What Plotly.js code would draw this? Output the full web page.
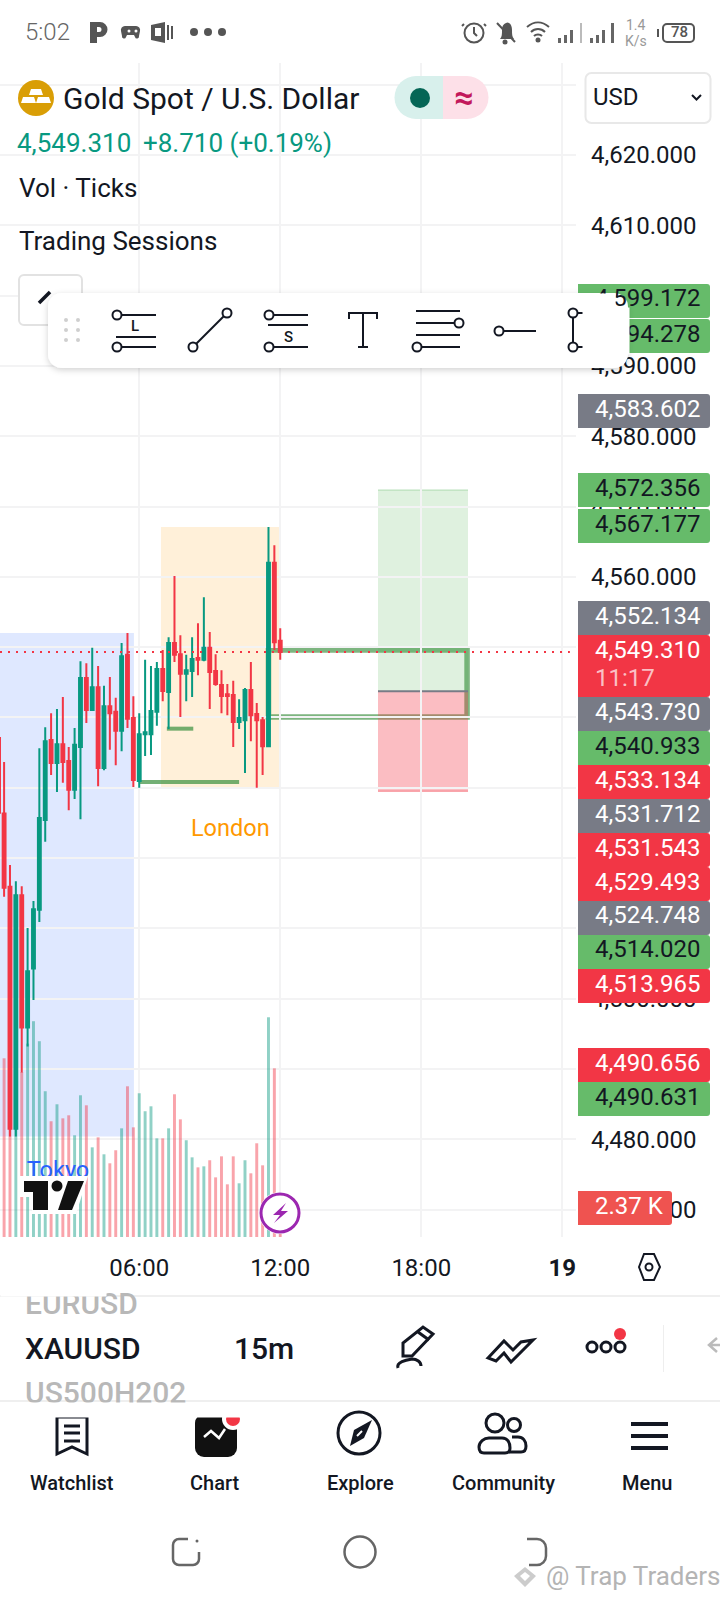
<!DOCTYPE html>
<html><head><meta charset="utf-8">
<script src="https://cdn.plot.ly/plotly-3.0.1.min.js"></script>
<style>html,body{margin:0;padding:0;background:#fff}#c{width:720px;height:1600px}</style>
</head><body><div id="c"></div>
<script>
// ---- Data (15m bars, 00:15 -> 12:00) ----
const barIndex = [0,1,2,3,4,5,6,7,8,9,10,11,12,13,14,15,16,17,18,19,20,21,22,23,24,25,26,27,28,29,30,31,32,33,34,35,36,37,38,39,40,41,42,43,44,45,46,47];
const openPrices  = [4526.35,4515.9,4481.5,4514.7,4495.9,4504.3,4512.65,4525.4,4536.8,4533.5,4536.2,4533.8,4529.7,4535.8,4545.6,4541.05,4544.3,4532.8,4541.6,4540.8,4538.1,4548.9,4539.9,4530.95,4537.6,4537.6,4540.8,4546.9,4543.6,4550.6,4549.0,4546.2,4546.6,4548.45,4548.2,4549.9,4546.6,4544.6,4543.3,4543.2,4539.35,4539.6,4543.9,4540.5,4539.6,4535.9,4562.0,4550.9];
const highPrices  = [4533.65,4519.0,4516.7,4516.0,4510.04,4513.9,4535.6,4538.6,4540.6,4541.2,4542.9,4535.8,4538.5,4548.0,4547.7,4549.9,4547.3,4544.5,4545.75,4542.8,4550.6,4552.0,4543.0,4540.6,4548.2,4547.3,4547.9,4549.6,4551.4,4560.1,4551.7,4548.9,4551.4,4553.4,4557.1,4552.15,4549.0,4546.7,4544.75,4545.2,4542.6,4544.2,4547.9,4542.05,4540.05,4567.1,4564.5,4552.7];
const lowPrices   = [4514.5,4480.4,4480.4,4489.5,4493.2,4499.8,4510.9,4522.3,4531.8,4529.4,4530.7,4526.8,4528.4,4525.5,4539.2,4540.9,4530.2,4532.5,4535.4,4533.2,4535.2,4538.5,4530.1,4530.0,4534.5,4534.65,4538.8,4542.3,4538.35,4547.9,4540.05,4542.3,4542.9,4546.0,4548.0,4541.2,4544.5,4540.6,4540.3,4535.8,4538.35,4532.1,4536.6,4530.0,4531.8,4535.8,4549.6,4548.2];
const closePrices = [4515.77,4481.5,4514.7,4495.9,4503.9,4512.7,4525.7,4536.6,4533.5,4536.2,4533.66,4529.7,4536.1,4545.6,4541.05,4544.3,4532.8,4541.6,4540.6,4538.1,4548.7,4539.8,4531.1,4537.6,4537.9,4540.9,4546.9,4543.75,4550.6,4548.9,4546.2,4546.7,4548.3,4548.2,4549.9,4546.45,4544.75,4543.05,4543.05,4539.35,4539.9,4543.9,4540.3,4539.6,4535.9,4562.0,4550.7,4549.31];
const volumeK = [14.11,16.0,13.0,13.03,15.27,17.04,15.46,11.51,9.14,10.48,9.37,9.61,8.03,11.19,10.40,7.08,7.87,6.53,5.82,6.85,8.58,11.90,8.66,11.35,9.93,10.32,7.79,7.79,8.58,11.27,9.29,7.64,6.29,5.50,5.58,6.06,4.71,6.37,4.16,6.37,4.24,6.06,5.03,7.40,5.66,17.35,13.32,2.37];
const clippedBarX = [-0.7,-0.7];
const clippedBarWick = [4537.2,4526.3];
const timeTickIndex = [23,47,71,95];
const timeTickLabels = ['06:00','12:00','18:00','<b>19</b>'];
const sessionNames = ['Tokyo','London'];
const sessionLabelX = [9.17,38.5];
const sessionLabelY = [4475.3,4524.0];
const lastPrice = 4549.31;

const UP='#089981', DOWN='#F23645', INK='#131722';
const GRID='#f3f3f4';
const xRange=[-0.698,97.34], priceRange=[4466.09,4633.09], volRange=[0,92.7];

const candles={type:'candlestick',x:barIndex,open:openPrices,high:highPrices,low:lowPrices,close:closePrices,
  xaxis:'x',yaxis:'y2',whiskerwidth:0,
  increasing:{line:{color:UP,width:2},fillcolor:UP},
  decreasing:{line:{color:DOWN,width:2},fillcolor:DOWN},hoverinfo:'skip'};
const volume={type:'bar',x:barIndex,y:volumeK,xaxis:'x',yaxis:'y',width:0.5,
  marker:{color:closePrices.map((c,i)=>c>=openPrices[i]?'rgba(8,153,129,0.45)':'rgba(242,54,69,0.45)'),line:{width:0}},hoverinfo:'skip'};
const clipped={type:'scatter',mode:'lines',x:clippedBarX,y:clippedBarWick,xaxis:'x',yaxis:'y2',line:{color:DOWN,width:2},hoverinfo:'skip'};
const sessionText={type:'scatter',mode:'text',x:sessionLabelX,y:sessionLabelY,text:sessionNames,xaxis:'x',yaxis:'y2',
  textposition:'middle center',cliponaxis:false,textfont:{family:'Roboto',size:23.5,color:['#2962ff','#ff9800']},hoverinfo:'skip'};

// drawings (data coordinates)
function box(x0,x1,y0,y1,fill,extra){return Object.assign({type:'rect',xref:'x',yref:'y2',x0,x1,y0,y1,fillcolor:fill,line:{width:0},layer:'below'},extra||{});}
function hline(x0,x1,y,col,w,extra){return Object.assign({type:'line',xref:'x',yref:'y2',x0,x1,y0:y,y1:y,line:{color:col,width:w},layer:'below'},extra||{});}
const shapes=[
  box(-0.698,22.1,4480.4,4552.0,'rgba(41,98,255,0.15)'),
  box(26.7,47.1,4530.0,4567.1,'rgba(255,152,0,0.15)'),
  hline(22.9,40,4530.8,'rgba(56,142,60,0.7)',4),
  hline(27.7,32.2,4538.4,'rgba(56,142,60,0.7)',4),
  box(45,78.8,4540.06,4549.59,'rgba(0,0,0,0)',{line:{color:'rgba(56,142,60,0.65)',width:5.5}}),
  box(63.64,78.96,4543.73,4572.356,'rgba(76,175,80,0.18)'),
  box(63.64,78.96,4529.493,4543.73,'rgba(242,54,69,0.33)'),
  hline(63.64,78.96,4543.73,'#787b86',2),
  hline(63.64,78.96,4529.493,'rgba(242,54,69,0.4)',1.5),
  hline(63.64,78.96,4572.356,'rgba(76,175,80,0.25)',1.5),
  hline(-0.698,96.3,lastPrice,DOWN,2,{layer:'above',line:{color:DOWN,width:2,dash:'2px,6px'}})
];

// ---- phone / app chrome, drawn as a single overlay ----
const tags=[
 ['g',284,'4,599.172'],['g',319,'4,594.278'],['y',394,'4,583.602'],['g',473,'4,572.356'],['g',509,'4,567.177'],
 ['y',601,'4,552.134'],['r',635,'4,549.310'],['y',697,'4,543.730'],['g',731,'4,540.933'],['r',765,'4,533.134'],
 ['y',799,'4,531.712'],['r',833,'4,531.543'],['r',867,'4,529.493'],['y',901,'4,524.748'],['g',935,'4,514.020'],
 ['r',969,'4,513.965'],['r',1048,'4,490.656'],['g',1082,'4,490.631']];
const tagFill={g:'#66bb6a',r:'#f23645',y:'#787b86'};
const tagText={g:'#131722',r:'#ffffff',y:'#ffffff'};
let s='';
function rr(x,y,w,h){return `M${x} ${y}h${w-3}a3 3 0 0 1 3 3v${h-6}a3 3 0 0 1 -3 3h-${w-3}z`;}
tags.forEach(t=>{const h=t[2]==='4,549.310'?62:34;s+=`<path d="${rr(578,t[1],132,h)}" fill="${tagFill[t[0]]}"/>`;});
s+=`<path d="${rr(578,1191,94,34)}" fill="#ef5350"/>`;
// USD box
s+=`<rect x="585.5" y="73" width="125" height="50" rx="6" fill="#fff" stroke="#e8e8e8" stroke-width="2"/>`;
s+=`<path d="M692 95l4.500 4.500 4.500-4.500" fill="none" stroke="#131722" stroke-width="2"/>`;
// gold icon
s+=`<circle cx="36" cy="98" r="18" fill="#d99e06"/>`;
s+=`<path d="M31 89h10l2 6h-14zM23 97h11l2 6h-15zM38 97h11l2 6h-15z" fill="#fff"/>`;
// pill
s+=`<path d="M443 76h-27a21.500 21.500 0 0 0 0 43h27z" fill="#d8f0ec"/><path d="M443 76h24a21.500 21.500 0 0 1 0 43h-24z" fill="#fde0e8"/><circle cx="420" cy="98" r="10" fill="#056656"/>`;
// hide button
s+=`<rect x="19" y="275" width="63" height="50" rx="5" fill="#fff" stroke="#e2e2e2" stroke-width="2"/><path d="M39 303l11-11" stroke="#131722" stroke-width="3.500"/>`;
// toolbar
s+=`<defs><filter id="sh" x="-10%" y="-30%" width="120%" height="160%"><feDropShadow dx="0" dy="2" stdDeviation="3" flood-color="#000" flood-opacity="0.18"/></filter></defs>`;
s+=`<rect x="48" y="293" width="580" height="75" rx="14" fill="#fff" filter="url(#sh)"/>`;
[[66,320],[78,320],[66,330],[78,330],[66,340],[78,340]].forEach(p=>{s+=`<circle cx="${p[0]}" cy="${p[1]}" r="2" fill="#cfcfcf"/>`;});
const c0=(x,y)=>`<circle cx="${x}" cy="${y}" r="4.500" fill="#fff" stroke="#131722" stroke-width="2"/>`;
s+=`<g stroke="#131722" stroke-width="2" fill="none">
<path d="M122 315H156M116 337H156M122 347H156"/>${c0(117,315)}${c0(117,347)}
<path d="M193 347L227 313"/>${c0(193,347)}${c0(227,313)}
<path d="M274 315H308M268 325H308M274 347H308"/>${c0(269,315)}${c0(269,347)}
<path d="M349 319V313H377V319M363 313V347M358 347H368"/>
<path d="M416 311H460M416 323H454M416 335H460M422 347H460"/>${c0(459,323)}${c0(417,347)}
<path d="M504 331H536"/>${c0(499,331)}
<rect x="573" y="313" width="34" height="34"/>${c0(573,313)}${c0(607,313)}${c0(573,347)}${c0(607,347)}
</g>`;
// status bar
s+=`<g fill="#555"><path d="M90 22h10a7 7 0 0 1 0 15h-3v6l-7 0z M97 27v5h2a2.500 2.500 0 0 0 0-5z" fill-rule="evenodd"/>
<path d="M125 26h11a4 4 0 0 1 4 5l-1 5a2 2 0 0 1-4 1l-1-2h-7l-1 2a2 2 0 0 1-4-1l-1-5a4 4 0 0 1 4-5z"/>
<path d="M151 25l14-3v21l-14-3z"/><rect x="167" y="25" width="2" height="15"/><rect x="171" y="26" width="2" height="13"/>
<circle cx="194" cy="32" r="4"/><circle cx="208" cy="32" r="4"/><circle cx="222" cy="32" r="4"/>
<path d="M500 39c2-2 2-5 2-9a7 7 0 0 1 4-7a2.500 2.500 0 0 1 3 0c2 1 3 4 3 7c0 4 0 7 2 9z"/><circle cx="505" cy="42" r="2.500"/>
<circle cx="538" cy="40" r="2.500"/></g>
<rect x="155" y="28" width="6" height="8" fill="#fff"/>
<circle cx="129" cy="31" r="1.500" fill="#fff"/><circle cx="136" cy="31" r="1.500" fill="#fff"/>
<path d="M497 23L515 42" stroke="#555" stroke-width="2"/>
<g fill="none" stroke="#555" stroke-width="2"><circle cx="474" cy="33" r="9.500"/><path d="M474 27v6l3 3M464 24l-2 2M484 24l2 2"/>
<path d="M527 27c7-6 15-6 22 0M531 32c4-4 10-4 14 0M534 36c2-2 6-2 8 0"/>
<rect x="663" y="24" width="31" height="18" rx="4"/><path d="M658 29v8"/></g>
<g fill="#666"><rect x="558" y="38" width="3" height="5"/><rect x="564" y="35" width="3" height="8"/><rect x="570" y="30" width="3" height="13"/><rect x="580" y="23" width="2" height="20" fill="#bbb"/>
<rect x="590" y="38" width="3" height="5"/><rect x="596" y="35" width="3" height="8"/><rect x="602" y="30" width="3" height="13"/><rect x="611" y="23" width="3" height="20"/></g>`;
// TradingView mark
s+=`<path d="M20 1176H88L76 1214H32V1197H20z" fill="#fff"/><path d="M24 1181H48V1210H33V1192H24z" fill="#111"/><circle cx="57" cy="1186" r="5.500" fill="#111"/><path d="M68 1181H84L72 1210H58z" fill="#111"/>`;
// flash badge
s+=`<circle cx="280" cy="1213" r="21" fill="#fff"/><circle cx="280" cy="1213" r="19" fill="#fff" stroke="#9c27b0" stroke-width="3"/><path d="M286 1203L273 1215H280L274 1223L288 1211H281z" fill="#9c27b0"/>`;
// hexagon
s+=`<path d="M639 1267L644 1254H654L660 1267L654 1280H644z" fill="none" stroke="#131722" stroke-width="2"/><circle cx="649" cy="1267" r="3.500" fill="none" stroke="#131722" stroke-width="2"/>`;
// rows
s+=`<rect x="0" y="1295" width="720" height="2" fill="#efefef"/><rect x="0" y="1400" width="720" height="2" fill="#efefef"/><rect x="663" y="1325" width="1" height="47" fill="#eee"/>`;
// pencil, chevrons, dots
s+=`<g fill="none" stroke="#131722" stroke-width="3"><path d="M403 1356V1343L423 1327L433 1334L412 1356z"/><path d="M418 1332L429 1340"/><path d="M398 1368c-2-6 8-8 14-9c5 0 9 3 9 7"/>
<path d="M488 1358L504 1341L513 1350L521 1342L533 1340L511 1362L504 1353L496 1361z" stroke-width="3"/>
<circle cx="592" cy="1347" r="5"/><circle cx="606" cy="1347" r="5"/><circle cx="620" cy="1347" r="5"/></g><circle cx="620" cy="1334" r="6" fill="#f23645"/>
<path d="M717 1338l-8 7l8 7M709 1345H720" fill="none" stroke="#bbb" stroke-width="2.500"/>`;
// bottom nav
s+=`<g fill="none" stroke="#131722" stroke-width="3"><path d="M57 1417H87V1454L72 1447L57 1454z"/><path d="M64 1426H80M64 1433H80M64 1441H80" stroke-width="3"/>
<circle cx="359" cy="1433" r="21"/><circle cx="495" cy="1423" r="9"/><circle cx="514" cy="1425" r="6.500"/><path d="M484 1453c-5 0-5-4-5-6c0-5 5-9 10-9h13c6 0 8 5 8 10c0 3-1 5-5 5z"/><path d="M512 1437h6c5 0 8 4 8 9c0 4-2 6-5 6h-12"/></g>
<path d="M372 1420L364 1438L350 1446L354 1430z" fill="#131722"/><path d="M362 1431l-5 5" stroke="#fff" stroke-width="2"/>
<rect x="195" y="1414" width="42" height="43" rx="9" fill="#111"/><path d="M204 1437l7-6l8 7l6-9" fill="none" stroke="#fff" stroke-width="2.500"/><circle cx="233" cy="1419" r="11" fill="#fff"/><circle cx="233" cy="1419" r="7" fill="#f23645"/>
<rect x="631" y="1422" width="37" height="4" fill="#131722"/><rect x="631" y="1434" width="37" height="4" fill="#131722"/><rect x="631" y="1446" width="37" height="4" fill="#131722"/>`;
// nav bar
s+=`<g fill="none" stroke="#666" stroke-width="2.500"><path d="M199 1552v7a6 6 0 0 1-6 6h-14a6 6 0 0 1-6-6v-14a6 6 0 0 1 6-6h9"/><circle cx="360" cy="1552" r="15.500"/><path d="M527 1539h10a9 9 0 0 1 9 9v8a9 9 0 0 1-9 9h-8"/></g><circle cx="197" cy="1541" r="1.500" fill="#666"/>
<path d="M525 1567l-11 9l11 11l11-11zM525 1572l-5 4l5 5l5-5z" fill="#ccc" fill-rule="evenodd"/>`;

const svg=`<svg xmlns="http://www.w3.org/2000/svg" width="720" height="1600" viewBox="0 0 720 1600">${s}</svg>`;
const overlay={source:'data:image/svg+xml;charset=utf-8,'+encodeURIComponent(svg),xref:'paper',yref:'paper',x:0,y:1,sizex:1,sizey:1,sizing:'stretch',xanchor:'left',yanchor:'top',layer:'above'};

// ---- real text ----
function T(x,y,text,size,color,anchor,weight,family){return {xref:'paper',yref:'paper',x:x/720,y:1-y/1600,text,showarrow:false,xanchor:anchor||'left',yanchor:'middle',borderpad:0,
  font:{family:family||'Roboto',size,color,weight:weight||400}};}
function cover(x0,y0,x1,y1){return {xref:'paper',yref:'paper',x:x0/720,y:1-y0/1600,xanchor:'left',yanchor:'top',text:' ',showarrow:false,width:x1-x0,height:y1-y0,bgcolor:'#ffffff',borderpad:0,font:{size:1}};}
const ann=[
 T(24,32,'5:02',24,'#666','left',300),
 T(636,25,'1.4',14,'#999','center'),T(636,41,'K/s',14,'#999','center'),T(679,32,'78',15,'#555','center',500),
 T(62,98,'Gold Spot / U.S. Dollar',30,INK),
 T(464,97,'≈',34,'#c2185b','center',700),
 T(592,97,'USD',24,INK),
 T(16,143,'4,549.310',26,UP),T(142,143,'+8.710 (+0.19%)',26,UP),
 T(18,188,'Vol · Ticks',26,INK),T(18,241,'Trading Sessions',26,INK)
];
tags.forEach(t=>{ann.push(T(594,t[1]+14.5,t[2],24,tagText[t[0]]));});
ann.push(T(594,678,'11:17',24,'rgba(255,255,255,0.7)'));
ann.push(T(594,1206,'2.37 K',24,'#fff'));
// toolbar covers the two tags it overlaps
ann.push(cover(582,307,628,353),cover(582,293,614,307));
ann.push(T(135,326,'L',15,INK,'center',500),T(288,337,'S',15,INK,'center',500));
ann.push(T(24,1303,'EURUSD',30,'#b8b8b8','left',500),cover(0,1279,105,1295));
ann.push(T(24,1348,'XAUUSD',30,INK,'left',500),T(233,1348,'15m',30,INK,'left',500));
ann.push(T(24,1392,'US500H202',30,'#b8b8b8','left',500),cover(0,1402,300,1416));
[['Watchlist',72],['Chart',215],['Explore',360],['Community',504],['Menu',647]].forEach(a=>ann.push(T(a[1],1483,a[0],20,INK,'center',500)));
ann.push(T(545,1576,'@ Trap Traders',26,'#b4b4b4','left'));

const layout={width:720,height:1600,margin:{l:0,r:0,t:0,b:0,pad:0},paper_bgcolor:'#fff',plot_bgcolor:'#fff',
  showlegend:false,hovermode:false,barmode:'overlay',font:{family:'Roboto',color:INK},
  xaxis:{domain:[0,0.8],range:xRange,type:'linear',tickmode:'array',tickvals:timeTickIndex,ticktext:timeTickLabels,
    showgrid:true,gridcolor:GRID,gridwidth:2,zeroline:false,showline:false,ticks:'',ticklabelstandoff:14,
    tickfont:{family:'Roboto',size:24,color:INK},fixedrange:true,rangeslider:{visible:false},automargin:false},
  yaxis:{domain:[0.226875,0.960625],range:volRange,visible:false,showgrid:false,zeroline:false,fixedrange:true},
  yaxis2:{domain:[0.226875,0.960625],overlaying:'y',anchor:'x',side:'right',range:priceRange,type:'linear',tick0:4480,dtick:10,tickformat:',.3f',
    showgrid:true,gridcolor:GRID,gridwidth:2,zeroline:false,showline:false,ticks:'',ticklabelstandoff:14,
    tickfont:{family:'Roboto',size:24,color:INK},fixedrange:true,automargin:false},
  shapes:shapes,images:[overlay],annotations:ann};
Plotly.newPlot('c',[volume,candles,clipped,sessionText],layout,{displayModeBar:false,staticPlot:true,responsive:false});
</script></body></html>
